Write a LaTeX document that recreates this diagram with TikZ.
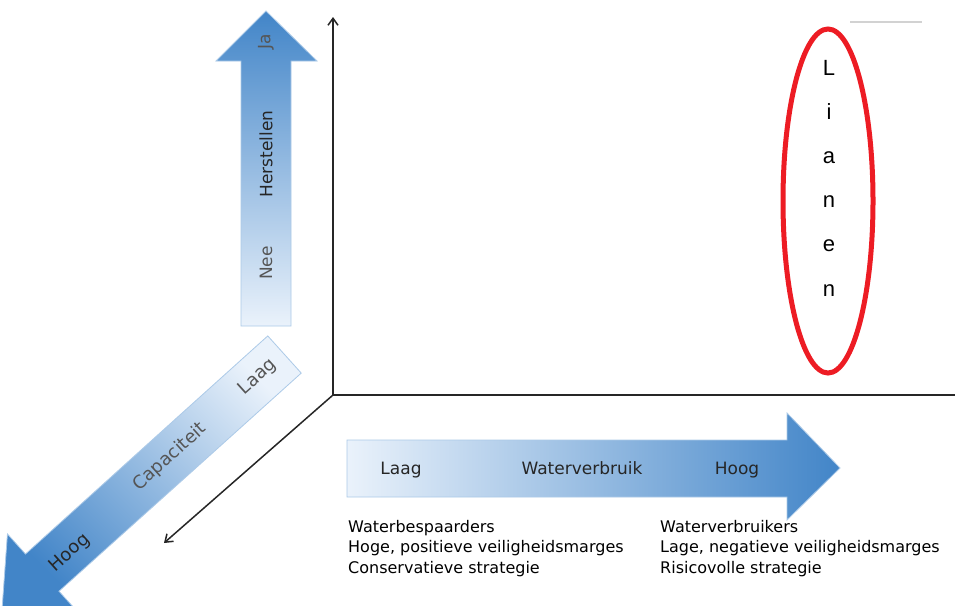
\documentclass[tikz,border=0pt]{standalone}
\usepackage{fontspec}
\setmainfont{DejaVu Sans}
\newfontfamily\arialfont{Liberation Sans}
\usetikzlibrary{arrows.meta, positioning, shapes.geometric}
\definecolor{arrowdark}{RGB}{66, 133, 200}
\definecolor{arrowmid}{RGB}{165, 200, 236}
\definecolor{arrowpale}{RGB}{234, 242, 251}
\definecolor{arrowedge}{RGB}{172, 202, 232}
\definecolor{lianenred}{RGB}{237, 28, 36}
\definecolor{labelgray}{RGB}{85, 85, 85}

\begin{document}
\begin{tikzpicture}[x=1pt, y=-1pt,
    axis/.style={line width=1.5pt, draw=black!85},
    fatarrow/.style={draw=arrowedge, line width=0.8pt},
    lbl/.style={font=\fontsize{17}{20}\selectfont, text=black!85, inner sep=0pt},
    note/.style={font=\fontsize{16}{18}\selectfont, anchor=base west, inner sep=0pt}]
    \useasboundingbox (0,0) rectangle (955,605);
    \clip (0,0) rectangle (955,605);
    \fill[white] (0,0) rectangle (955,605);

    % Capaciteit (diagonal, head runs off the corner)
    \begin{scope}[shift={(284.5,354.5)}, rotate=222]
        \path[fatarrow, top color=arrowpale, middle color=arrowmid, bottom color=arrowdark, shading angle=-45]
            (0,-25) -- (326,-25) -- (326,-52) -- (380,0) -- (326,52) -- (326,25) -- (0,25) -- cycle;
    \end{scope}
    \node[lbl, rotate=42, font=\fontsize{18}{20}\selectfont] (caphoog) at (70,553) {Hoog};
    \node[lbl, rotate=42, font=\fontsize{18}{20}\selectfont, text=labelgray] (capaciteit) at (170,457) {Capaciteit};
    \node[lbl, rotate=42, font=\fontsize{18}{20}\selectfont, text=labelgray] (caplaag) at (258,377) {Laag};

    % Herstellen (vertical)
    \path[fatarrow, top color=arrowdark, middle color=arrowmid, bottom color=arrowpale]
        (241,326) -- (241,61) -- (216,61) -- (266,11) -- (317,61) -- (291,61) -- (291,326) -- cycle;
    \node[lbl, rotate=90, text=labelgray] (ja) at (266,42) {Ja};
    \node[lbl, rotate=90] (herstellen) at (266,154) {Herstellen};
    \node[lbl, rotate=90, text=labelgray] (nee) at (266,263) {Nee};

    % Waterverbruik (horizontal)
    \path[fatarrow, left color=arrowpale, middle color=arrowmid!35!arrowpale, right color=arrowdark]
        (347,440) -- (787,440) -- (787,413) -- (840,468) -- (787,520) -- (787,497) -- (347,497) -- cycle;
    \node[lbl, anchor=base] (wlaag) at (401,474) {Laag};
    \node[lbl, anchor=base] (water) at (582,474) {Waterverbruik};
    \node[lbl, anchor=base] (whoog) at (737,474) {Hoog};

    % notes under the arrow
    \foreach \t [count=\i] in {Waterbespaarders, {Hoge, positieve veiligheidsmarges}, Conservatieve strategie}
        \node[note] (links\i) at (348,532+20.8*\i-20.8) {\t};
    \foreach \t [count=\i] in {Waterverbruikers, {Lage, negatieve veiligheidsmarges}, Risicovolle strategie}
        \node[note] (rechts\i) at (660,532+20.8*\i-20.8) {\t};

    % axes
    \coordinate (origin) at (333,395);
    \coordinate (ytop) at (333,17);
    \coordinate (xend) at (955,395);
    \coordinate (zend) at (164,543);
    \draw[axis, -{Straight Barb[length=7pt, width=10pt]}] (origin) -- (ytop);
    \draw[axis] (origin) -- (xend);
    \draw[axis, -{Straight Barb[length=7pt, width=10pt]}] (origin) -- (zend);

    % Lianen
    \coordinate (streepa) at (850,22);
    \coordinate (streepb) at (922,22);
    \draw[gray!35, line width=1.5pt] (streepa) -- (streepb);
    \node[ellipse, draw=lianenred, line width=5pt, minimum width=90, minimum height=344] (lianen) at (828,201) {};
    \foreach \c [count=\i] in {L,i,a,n,e,n}
        \node[anchor=base, inner sep=0pt, font=\arialfont\fontsize{22}{24}\selectfont] (letter\i) at (829,75+44.2*\i-44.2) {\c};
\end{tikzpicture}
\end{document}
